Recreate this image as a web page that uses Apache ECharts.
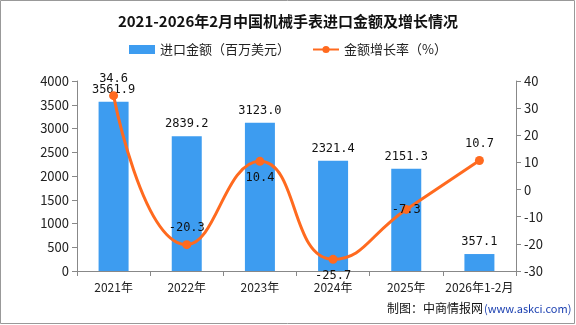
<!DOCTYPE html>
<html><head><meta charset="utf-8">
<script src="https://cdn.jsdelivr.net/npm/echarts@6/dist/echarts.min.js"></script>
<style>html,body{margin:0;padding:0;background:#fff}#c{width:576px;height:325px}</style>
</head><body><div id="c"></div>
<script>
const categories = ['2021年','2022年','2023年','2024年','2025年','2026年1-2月'];
const importValues = [3561.9, 2839.2, 3123.0, 2321.4, 2151.3, 357.1];
const growthRates = [34.6, -20.3, 10.4, -25.7, -7.3, 10.7];
const growthLabelPos = ['top','top','bottom','bottom','inside','top'];

const chart = echarts.init(document.getElementById('c'));
const font = '"Noto Sans CJK SC", sans-serif';
const mono = '"DejaVu Sans Mono", monospace';
chart.setOption({
  animation: false,
  textStyle: {fontFamily: font},
  title: {text: '2021-2026年2月中国机械手表进口金额及增长情况', left: 'center', top: 9,
    textStyle: {fontSize: 15, fontWeight: 'bold', color: '#111', fontFamily: font}},
  legend: {top: 38, left: 'center', itemGap: 22, itemWidth: 26, itemHeight: 9,
    textStyle: {fontSize: 13, color: '#222'},
    data: [{name: '进口金额（百万美元）', icon: 'rect'}, {name: '金额增长率（%）'}]},
  grid: {left: 77, right: 60, top: 81, bottom: 54},
  xAxis: {type: 'category', data: categories,
    axisLine: {lineStyle: {color: '#888'}}, axisTick: {show: true, lineStyle: {color: '#888'}},
    axisLabel: {color: '#222', fontSize: 12, margin: 10, interval: 0}},
  yAxis: [
    {type: 'value', min: 0, max: 4000, interval: 500, splitLine: {show: false},
     axisLine: {show: true, lineStyle: {color: '#888'}}, axisTick: {show: true, lineStyle: {color: '#888'}},
     axisLabel: {color: '#222', fontSize: 13, formatter: v => String(v)}},
    {type: 'value', min: -30, max: 40, interval: 10, splitLine: {show: false},
     axisLine: {show: true, lineStyle: {color: '#888'}}, axisTick: {show: true, lineStyle: {color: '#888'}},
     axisLabel: {color: '#222', fontSize: 13, formatter: v => String(v)}}
  ],
  series: [
    {name: '进口金额（百万美元）', type: 'bar', data: importValues, barWidth: 30,
     itemStyle: {color: '#3d9cf0'},
     label: {show: true, position: 'top', distance: 6, color: '#111', fontSize: 12, fontFamily: mono,
       formatter: p => p.value.toFixed(1)}},
    {name: '金额增长率（%）', type: 'line', yAxisIndex: 1, smooth: true,
     data: growthRates.map((v, i) => ({value: v, label: {position: growthLabelPos[i]}})),
     symbol: 'circle', symbolSize: 9,
     lineStyle: {color: '#ff6a1f', width: 3}, itemStyle: {color: '#ff6a1f'},
     label: {show: true, color: '#111', fontSize: 12, fontFamily: mono, distance: 6,
       formatter: p => p.value.toFixed(1)}}
  ],
  graphic: [
    {type: 'rect', shape: {x: 0.5, y: 0.5, width: 574, height: 323}, style: {fill: 'none', stroke: '#999', lineWidth: 1}, silent: true},
    {type: 'text', left: 387, top: 302, style: {text: '制图：中商情报网', fontSize: 12, fill: '#111', fontFamily: font}},
    {type: 'text', left: 484, top: 303, style: {text: '(www.askci.com)', fontSize: 11, fill: '#1a3fb0', fontFamily: font}}
  ]
});
</script></body></html>
